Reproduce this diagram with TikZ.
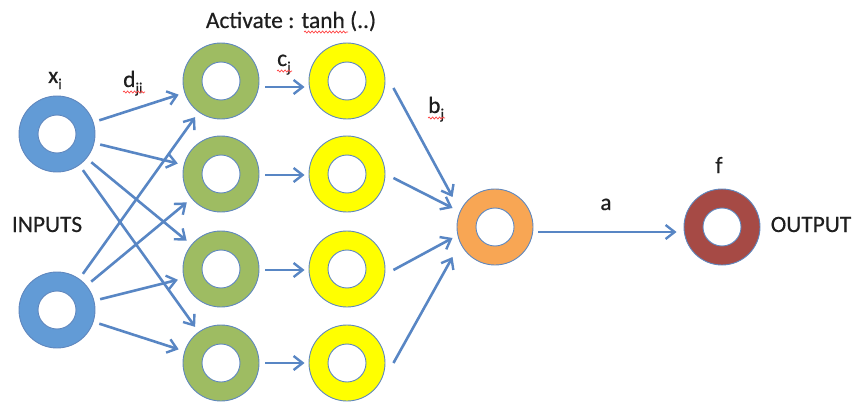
\documentclass[tikz,border=0pt]{standalone}
\usepackage{fontspec}
\setmainfont{Carlito}[UprightFeatures={FakeBold=0.5}]
\usetikzlibrary{arrows.meta,calc,decorations.pathmorphing}
\definecolor{ringline}{RGB}{95,135,190}
\definecolor{arrowc}{RGB}{88,134,196}
\definecolor{inblue}{RGB}{98,155,214}
\definecolor{hidgreen}{RGB}{158,188,98}
\definecolor{actyellow}{RGB}{255,255,0}
\definecolor{sumorange}{RGB}{248,166,84}
\definecolor{outbrown}{RGB}{166,74,69}
\newcommand\sbs[1]{\raisebox{-6pt}{\fontsize{15}{15}\selectfont #1}}
\begin{document}
\begin{tikzpicture}[x=1pt,y=-1pt,
  ring/.style={circle, minimum size=76pt, inner sep=0pt, draw=ringline, line width=0.9pt, fill=#1},
  conn/.style={draw=arrowc, line width=2.6pt, -{Straight Barb[length=9pt,width=14pt,line width=2.4pt]}},
  lbl/.style={font=\fontsize{23.4}{28}\selectfont, text=black!88, inner sep=0pt},
  squig/.style={draw=red!75, line width=0.7pt, decorate, decoration={snake, amplitude=1pt, segment length=3.5pt}}
]
\useasboundingbox (0,0) rectangle (852,404);
% nodes
\node[ring=inblue] (in1) at (57,134) {};
\node[ring=inblue] (in2) at (57,310) {};
\node[ring=hidgreen] (g1) at (221,81) {};
\node[ring=hidgreen] (g2) at (221,174) {};
\node[ring=hidgreen] (g3) at (221,269) {};
\node[ring=hidgreen] (g4) at (221,363) {};
\node[ring=actyellow] (y1) at (347,81) {};
\node[ring=actyellow] (y2) at (347,174) {};
\node[ring=actyellow] (y3) at (347,269) {};
\node[ring=actyellow] (y4) at (347,363) {};
\node[ring=sumorange] (or) at (495,227) {};
\node[ring=outbrown] (br) at (722,227) {};
\foreach \n in {in1,in2,g1,g2,g3,g4,y1,y2,y3,y4,or,br}
  \draw[ringline, line width=0.9pt, fill=white] (\n) circle (19pt);
% labels
\node[lbl, anchor=base] (act) at (291,28) {Activate : tanh (..)};
\node[lbl, anchor=base west] (xl) at (48,83) {x\sbs{i}};
\node[lbl, anchor=base west] (dl) at (123,87) {d\sbs{ji}};
\node[lbl, anchor=base west] (cl) at (277,66) {c\sbs{j}};
\node[lbl, anchor=base west] (bl) at (428,113) {b\sbs{j}};
\node[lbl, anchor=base] (inl) at (47,232) {INPUTS};
\node[lbl, anchor=base] (outl) at (811,232) {OUTPUT};
\node[lbl, anchor=base] (al) at (606,210) {a};
\node[lbl, anchor=base] (fl) at (719,173) {f};
% spell-check marks
\path[squig] (304,32) -- (348,32);
\path[squig] (123,92) -- (145,92);
\path[squig] (277,71) -- (292,71);
\path[squig] (428,118) -- (445,118);
% input -> hidden
\foreach \s in {in1,in2}
  \foreach \t in {g1,g2,g3,g4}
    \draw[conn, shorten <=6pt, shorten >=6pt] (\s) -- (\t);
% hidden -> activation
\draw[conn] ($(g1.east)+(6,6)$) -- ($(y1.west)+(-4,6)$);
\draw[conn] ($(g2.east)+(6,1)$) -- ($(y2.west)+(-4,1)$);
\draw[conn] ($(g3.east)+(6,1)$) -- ($(y3.west)+(-4,1)$);
\draw[conn] ($(g4.east)+(6,0)$) -- ($(y4.west)+(-4,0)$);
% activation -> sum
\draw[conn] ($(y1.east)+(8,7)$) -- ($(or.west)+(-4,-30)$);
\draw[conn] ($(y2.east)+(8,4)$) -- ($(or.west)+(-4,-19)$);
\draw[conn] ($(y3.east)+(8,1)$) -- ($(or.west)+(-4,11)$);
\draw[conn] ($(y4.east)+(8,0)$) -- ($(or.west)+(-4,30)$);
% sum -> output
\draw[conn] ($(or.east)+(5,5)$) -- ($(br.west)+(-7,5)$);
\end{tikzpicture}
\end{document}
